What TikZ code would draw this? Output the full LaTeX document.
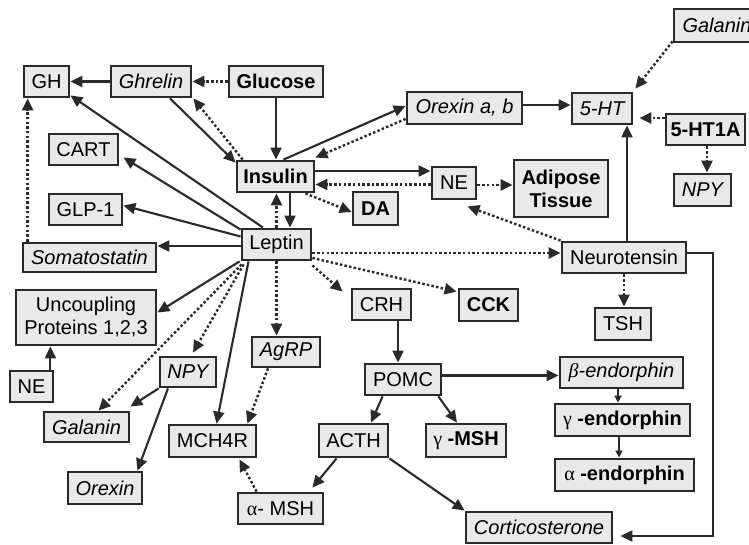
\documentclass[tikz,border=0pt]{standalone}
\usepackage{fontspec}
\setmainfont{Liberation Sans}
\newfontfamily\grk{Liberation Serif}
\usetikzlibrary{arrows.meta,calc}
\definecolor{boxfill}{HTML}{E9E9E9}
\definecolor{ink}{HTML}{2A2A2A}
\tikzset{
  box/.style={draw=ink, fill=boxfill, line width=2.8pt, inner sep=0pt, minimum height=31pt, align=center, font=\fontsize{20}{23}\selectfont},
  arr/.style={draw=ink, line width=2.1pt, -{Triangle[length=12pt,width=11pt]}},
  darr/.style={arr, line width=2.4pt, dash pattern=on 2.5pt off 2.2pt},
  sarr/.style={draw=ink, line width=1.8pt, -{Triangle[length=7pt,width=7pt]}},
}
\begin{document}
\begin{tikzpicture}[x=1pt,y=-1pt]
\clip (0,0) rectangle (749,545);
\useasboundingbox (0,0) rectangle (749,545);
% nodes
\node[box,minimum width=45pt] (gh) at (46.5,81.5) {GH};
\node[box,minimum width=80pt] (ghrelin) at (151,81.5) {\itshape Ghrelin};
\node[box,minimum width=94pt] (glucose) at (276,81.5) {\bfseries Glucose};
\node[box,minimum width=69pt] (cart) at (83.5,149.5) {CART};
\node[box,minimum width=73pt] (glp) at (85.5,209.5) {GLP-1};
\node[box,minimum width=77pt] (insulin) at (275.5,176.5) {\bfseries Insulin};
\node[box,minimum width=69pt] (leptin) at (276.5,244.5) {Leptin};
\node[box,minimum width=45pt,minimum height=33pt] (da) at (375.5,208.5) {\bfseries DA};
\node[box,minimum width=115pt,minimum height=32pt] (orex) at (464.5,108) {\itshape Orexin a, b};
\node[box,minimum width=60pt] (fiveht) at (602,108.5) {\itshape 5-HT};
\node[box,minimum width=86pt,minimum height=33pt] (galT) at (717,25.5) {\itshape Galanin};
\node[box,minimum width=79pt] (htia) at (705.5,129.5) {\bfseries 5-HT1A};
\node[box,minimum width=57pt,minimum height=32pt] (npyR) at (702.5,190) {\itshape NPY};
\node[box,minimum width=44pt,minimum height=32pt] (neU) at (454,183) {NE};
\node[box,minimum width=94pt,minimum height=57pt] (adip) at (561,188.5) {\bfseries Adipose\\\bfseries Tissue};
\node[box,minimum width=133pt,minimum height=29pt] (somat) at (89.5,257.5) {\itshape Somatostatin};
\node[box,minimum width=140pt,minimum height=55pt] (unc) at (86,317.5) {Uncoupling\\Proteins 1,2,3};
\node[box,minimum width=43pt] (neL) at (31.5,386.5) {NE};
\node[box,minimum width=56pt,minimum height=30pt] (npyL) at (188,372) {\itshape NPY};
\node[box,minimum width=68pt,minimum height=30pt] (agrp) at (286,352) {\itshape AgRP};
\node[box,minimum width=85pt,minimum height=30pt] (galL) at (86.5,427) {\itshape Galanin};
\node[box,minimum width=87pt,minimum height=32pt] (mch) at (212.5,441) {MCH4R};
\node[box,minimum width=74pt,minimum height=32pt] (orexL) at (105,488) {\itshape Orexin};
\node[box,minimum width=85pt] (amsh) at (280.5,508.5) {{\grk α}- MSH};
\node[box,minimum width=69pt,minimum height=33pt] (acth) at (353.5,440.5) {ACTH};
\node[box,minimum width=59pt] (crh) at (381.5,304.5) {CRH};
\node[box,minimum width=59pt,minimum height=32pt] (cck) at (488.5,305) {\bfseries CCK};
\node[box,minimum width=124pt] (neur) at (624,257.5) {Neurotensin};
\node[box,minimum width=56pt,minimum height=32pt] (tsh) at (623,324) {TSH};
\node[box,minimum width=76pt] (pomc) at (403,379.5) {POMC};
\node[box,minimum width=80pt,minimum height=33pt] (gmsh) at (466,440.5) {{\grk γ} \bfseries -MSH};
\node[box,minimum width=123pt] (bend) at (621.5,372.5) {{\grk\itshape β}\itshape -endorphin};
\node[box,minimum width=135pt,minimum height=32pt] (gend) at (622.5,420) {{\grk γ} \bfseries -endorphin};
\node[box,minimum width=139pt,minimum height=32pt] (aend) at (624.5,475) {{\grk α} \bfseries -endorphin};
\node[box,minimum width=146pt] (cort) at (539,527.5) {\itshape Corticosterone};
% connectors
\draw[arr] (ghrelin.west) -- (gh.east);
\draw[darr] (glucose.west) -- (ghrelin.east);
\draw[arr] (glucose.south) -- (glucose.south |- insulin.north);
\draw[arr] ([xshift=19pt]ghrelin.south) -- ([yshift=-3pt]insulin.north west);
\draw[darr] ([xshift=7pt]insulin.north west) -- ([xshift=1pt]ghrelin.south east);
\draw[arr] ([xshift=-13.5pt]leptin.north) -- ([yshift=3pt]gh.south east);
\draw[arr] ([yshift=-2pt]leptin.north west) -- ([xshift=4pt,yshift=-8pt]cart.east);
\draw[arr] ([yshift=8pt]leptin.west) -- ([yshift=4pt]glp.east);
\draw[arr] ([yshift=-1.5pt]leptin.west) -- ([yshift=-1.5pt]leptin.west -| somat.east);
\draw[darr] ([xshift=6pt]somat.north west) -- ([xshift=6pt]somat.north west |- gh.south);
\draw[arr] ([xshift=-1pt]leptin.south west) -- ([yshift=5pt]unc.east);
\draw[arr] ([xshift=-4pt]neL.north east) -- ([xshift=-4pt]neL.north east |- unc.south);
\draw[darr] ([xshift=1pt,yshift=-3pt]leptin.south west) -- ([xshift=12pt]galL.north);
\draw[darr] ([xshift=3pt,yshift=-3pt]leptin.south west) -- ([xshift=5pt,yshift=3pt]npyL.north);
\draw[arr] (npyL.south west) -- ([yshift=4pt]galL.north east);
\draw[arr] ([xshift=-20pt]npyL.south) -- ([xshift=-6pt]orexL.north east);
\draw[arr] ([xshift=-28pt]leptin.south) -- ([xshift=4pt]mch.north);
\draw[darr] (leptin.south) -- (leptin.south |- agrp.north);
\draw[darr] ([xshift=-18pt]agrp.south) -- ([xshift=-10pt]mch.north east);
\draw[darr] ([xshift=20pt]amsh.north west) -- ([xshift=-18pt,yshift=-1pt]mch.south east);
\draw[arr] ([xshift=19pt]acth.south west) -- ([xshift=-12pt,yshift=4pt]amsh.north east);
\draw[darr] ([yshift=-4pt]leptin.south east) -- ([xshift=-8pt,yshift=-4pt]crh.north west);
\draw[darr] ([yshift=-13.5pt]leptin.east) -- ([xshift=-1pt,yshift=-4pt]cck.north west);
\draw[darr] ([yshift=-8.5pt]leptin.east) -- ([yshift=4.5pt]neur.west);
\draw[darr] (neur.north west) -- ([xshift=-10pt,yshift=-6pt]neU.south east);
\draw[darr] (neur.south) -- (neur.south |- tsh.north);
\draw[arr] ([xshift=3pt]neur.north) -- ([xshift=3pt]neur.north |- fiveht.south);
\coordinate (nc1) at ([yshift=4.5pt]neur.east);
\coordinate (nc2) at (713,0);
\coordinate (nc3) at ([xshift=7pt,yshift=-8.5pt]cort.east);
\draw[arr] (nc1) -- (nc1 -| nc2) -- (nc2 |- nc3) -- (nc3);
\draw[arr] ([xshift=16.5pt]crh.south) -- ([xshift=16.5pt]crh.south |- pomc.north);
\draw[arr] ([yshift=4pt]pomc.east) -- ([yshift=4pt]pomc.east -| bend.west);
\draw[arr] ([xshift=19pt]pomc.south west) -- ([xshift=17.5pt]acth.north);
\draw[arr] ([xshift=-4pt]pomc.south east) -- ([xshift=-9pt]gmsh.north);
\draw[sarr] ([xshift=-3.5pt]bend.south) -- ([xshift=-3.5pt]bend.south |- gend.north);
\draw[sarr] ([xshift=-3.5pt]gend.south) -- ([xshift=-3.5pt]gend.south |- aend.north);
\draw[arr] (acth.south east) -- (cort.north west);
\draw[arr] ([xshift=14.5pt]insulin.south) -- ([xshift=14.5pt]insulin.south |- leptin.north);
\draw[darr] (leptin.north) -- (leptin.north |- insulin.south);
\draw[darr] ([xshift=-10pt]insulin.south east) -- ([yshift=-3.5pt]da.west);
\draw[arr] ([xshift=8pt]insulin.north) -- ([yshift=2pt]orex.west);
\draw[darr] ([yshift=-11pt]orex.west) -- ([yshift=2pt]insulin.north east);
\draw[arr] ([yshift=5.5pt]insulin.east) -- ([yshift=5.5pt]insulin.east -| neU.west);
\draw[darr] ([yshift=-1.5pt]neU.west) -- ([yshift=-1.5pt]neU.west -| insulin.east);
\draw[darr] ([yshift=-2pt]neU.east) -- ([yshift=-2pt]neU.east -| adip.west);
\draw[arr] ([yshift=3pt]orex.east) -- ([yshift=3pt]orex.east -| fiveht.west);
\draw[darr] ([yshift=2pt]galT.south west) -- ([xshift=2pt,yshift=3pt]fiveht.north east);
\draw[darr] ([yshift=11.5pt]htia.west) -- ([xshift=6pt,yshift=-9.5pt]fiveht.east);
\draw[darr] ([xshift=1.5pt]htia.south) -- ([xshift=1.5pt]htia.south |- npyR.north);
\end{tikzpicture}
\end{document}
